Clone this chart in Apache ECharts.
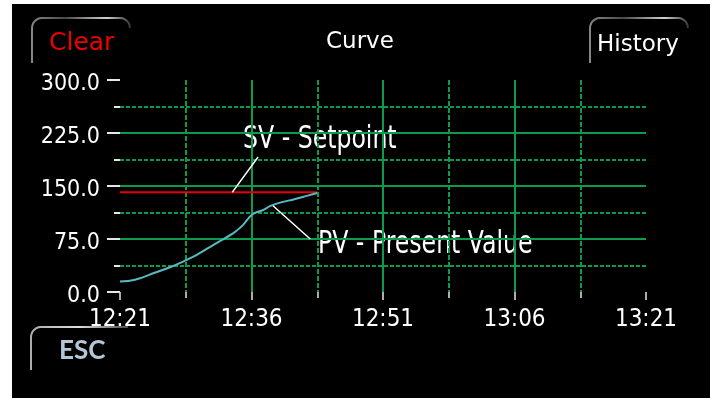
<!DOCTYPE html>
<html>
<head>
<meta charset="utf-8">
<script src="https://cdn.jsdelivr.net/npm/echarts@6/dist/echarts.min.js"></script>
<style>
html,body{margin:0;padding:0;background:#fff;}
#wrap{position:relative;width:715px;height:398px;background:#fff;overflow:hidden;}
#panel{position:absolute;left:12px;top:4px;width:698px;height:394px;background:#000;}
#chart{position:absolute;left:0;top:0;width:715px;height:398px;}
</style>
</head>
<body>
<div id="wrap"><div id="panel"></div><div id="chart"></div></div>
<script>
// ---- data ----
const timeTickLabels = ['12:21', '12:36', '12:51', '13:06', '13:21']; // every 15 min
const pvMinutes = [0, 1.1, 2.3, 3.8, 5.7, 7.2, 8.75, 10.3, 11.4, 12.9, 14.05, 14.8, 15.4, 16.35, 17.1, 18.25, 19.8, 21.3, 22.5];
const pvValues  = [15, 16, 19.5, 26.5, 35, 43, 52.5, 64, 72, 83, 95, 106.5, 112, 116, 121.5, 126.5, 131, 136, 140];
const svMinutes = [0, 22.5];
const svValues  = [141, 141];
const svPointer = [[12.8, 141], [15.75, 191]];
const pvPointer = [[17.45, 122], [21.7, 75]];

const NARROW = '"DejaVu Sans Condensed", "DejaVu Sans", sans-serif';
const GREEN = '#0c9a4c';

const chart = echarts.init(document.getElementById('chart'), null, {renderer: 'canvas'});

function grad(stops) {
  return {type: 'linear', x: 0, y: 0, x2: 1, y2: 0, global: false,
    colorStops: stops.map(s => ({offset: s[0], color: s[1]}))};
}
function btnGrad() {
  return grad([[0, '#8a8a8a'], [0.35, '#4a4a4a'], [0.75, '#d0d0d0'], [1, '#2a2a2a']]);
}
// rounded outline: left edge + top edge (+ optional right corner)
function outline(x0, y0, x1, yBottom, r, rightDrop) {
  const pts = [[x0, yBottom], [x0, y0 + r]];
  for (let a = 180; a <= 270; a += 15) {
    const t = a * Math.PI / 180;
    pts.push([x0 + r + r * Math.cos(t), y0 + r + r * Math.sin(t)]);
  }
  pts.push([x1 - (rightDrop ? r : 0), y0]);
  if (rightDrop) {
    for (let a = 270; a <= 360; a += 15) {
      const t = a * Math.PI / 180;
      pts.push([x1 - r + r * Math.cos(t), y0 + r + r * Math.sin(t)]);
    }
  }
  return pts;
}

const option = {
  backgroundColor: 'transparent',
  animation: false,
  grid: {left: 120, right: 69, top: 80, bottom: 106},
  xAxis: {
    type: 'value', min: 0, max: 60, interval: 15,
    axisLine: {show: false},
    axisTick: {show: true, length: 8, lineStyle: {color: '#e6e6e6', width: 1.5}},
    minorTick: {show: true, splitNumber: 2, length: 6, lineStyle: {color: '#e6e6e6', width: 1.5}},
    splitLine: {show: true, showMinLine: false, showMaxLine: false, lineStyle: {color: GREEN, width: 2}},
    minorSplitLine: {show: true, lineStyle: {color: GREEN, width: 2, type: [5, 2]}},
    axisLabel: {
      color: '#ffffff', fontFamily: NARROW, fontSize: 24, margin: 16,
      formatter: v => timeTickLabels[Math.round(v / 15)] || ''
    }
  },
  yAxis: {
    type: 'value', min: 0, max: 300, interval: 75,
    axisLine: {show: false},
    axisTick: {show: true, length: 13, lineStyle: {color: '#e6e6e6', width: 2}},
    minorTick: {show: true, splitNumber: 2, length: 6, lineStyle: {color: '#e6e6e6', width: 2}},
    splitLine: {show: true, showMinLine: false, showMaxLine: false, lineStyle: {color: GREEN, width: 2}},
    minorSplitLine: {show: true, lineStyle: {color: GREEN, width: 2, type: [4, 2]}},
    axisLabel: {
      color: '#ffffff', fontFamily: NARROW, fontSize: 23, margin: 20,
      verticalAlign: 'top', lineHeight: 8,
      formatter: v => v.toFixed(1)
    }
  },
  series: [
    {
      name: 'SV', type: 'line', showSymbol: false, silent: true,
      data: svMinutes.map((m, i) => [m, svValues[i]]),
      lineStyle: {color: '#e60000', width: 2},
      markLine: {
        silent: true, symbol: 'none', label: {show: false},
        lineStyle: {color: '#ffffff', width: 1.5, type: 'solid'},
        data: [
          [{coord: svPointer[0]}, {coord: svPointer[1]}],
          [{coord: pvPointer[0]}, {coord: pvPointer[1]}]
        ]
      }
    },
    {
      name: 'PV', type: 'line', showSymbol: false, silent: true, smooth: 0.2,
      data: pvMinutes.map((m, i) => [m, pvValues[i]]),
      lineStyle: {color: '#58b9c4', width: 2}
    }
  ],
  graphic: [
    {type: 'polyline', shape: {points: outline(32, 18, 130, 63, 10, true)},
     style: {fill: null, stroke: btnGrad(), lineWidth: 2}},
    {type: 'polyline', shape: {points: outline(590, 18, 688, 63, 10, true)},
     style: {fill: null, stroke: btnGrad(), lineWidth: 2}},
    {type: 'polyline', shape: {points: outline(31, 327, 128, 370, 10, false)},
     style: {fill: null, stroke: grad([[0, '#aaaaaa'], [0.5, '#dddddd'], [1, '#444444']]), lineWidth: 2}},
    {type: 'text', left: 49, top: 31, style: {text: 'Clear', fill: '#ee0000', font: '25px "DejaVu Sans", sans-serif'}},
    {type: 'text', left: 597, top: 34, style: {text: 'History', fill: '#ffffff', font: '23px "DejaVu Sans", sans-serif'}},
    {type: 'text', left: 326, top: 31, style: {text: 'Curve', fill: '#ffffff', font: '23px "DejaVu Sans", sans-serif'}},
    {type: 'text', left: 59, top: 338, style: {text: 'ESC', fill: '#b4c6d6', font: 'bold 26px Lato, sans-serif'}},
    {type: 'text', x: 243, y: 124, scaleX: 0.82, style: {text: 'SV - Setpoint', fill: '#ffffff', font: '32px ' + NARROW}},
    {type: 'text', x: 318, y: 229, scaleX: 0.82, style: {text: 'PV - Present Value', fill: '#ffffff', font: '32px ' + NARROW}}
  ]
};
chart.setOption(option);
</script>
</body>
</html>
